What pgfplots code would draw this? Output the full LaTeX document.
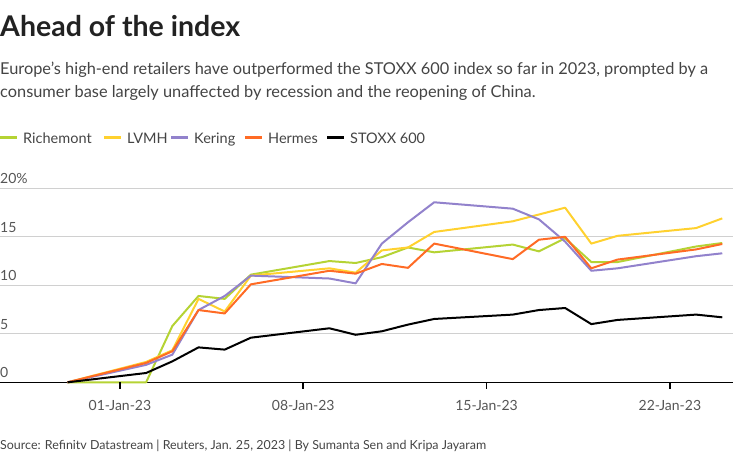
\documentclass[border=0pt]{standalone}
\usepackage{pgfplots}
\pgfplotsset{compat=1.18}
\usepackage{fontspec}
\setmainfont{Lato}
\definecolor{cRich}{HTML}{B5D334}
\definecolor{cLVMH}{HTML}{FFD12F}
\definecolor{cKer}{HTML}{9282CC}
\definecolor{cHer}{HTML}{FF6B25}
\definecolor{cTxt}{HTML}{222222}
\definecolor{cSub}{HTML}{444444}
\definecolor{cLab}{HTML}{555555}
\definecolor{cGrid}{HTML}{D0D0D0}
\newcommand{\legitem}[3]{%
  \draw[draw=#2, line width=2.2pt] (#1,319.5) -- (#1+17,319.5);
  \node[anchor=base west,inner sep=0,text=cSub] at (#1+23,313.5) {\fontsize{14.5}{16}\selectfont #3};
}
\begin{document}
\begin{tikzpicture}[x=1pt,y=1pt]
\useasboundingbox (0,0) rectangle (736,457);
\node[anchor=base west,inner sep=0,text=cTxt] at (0,457-37) {\fontsize{28.5}{32}\selectfont\bfseries Ahead of the index};
\node[anchor=base west,inner sep=0,text=cSub] at (0,457-75) {\fontsize{16.35}{20}\selectfont Europe’s high-end retailers have outperformed the STOXX 600 index so far in 2023, prompted by a};
\node[anchor=base west,inner sep=0,text=cSub] at (0,457-98) {\fontsize{16.35}{20}\selectfont consumer base largely unaffected by recession and the reopening of China.};
\node[anchor=base west,inner sep=0,text=cSub] at (0,457-450) {\fontsize{12.45}{15}\selectfont Source: Refinitv Datastream | Reuters, Jan. 25, 2023 | By Sumanta Sen and Kripa Jayaram};
% legend
\legitem{0}{cRich}{Richemont}
\legitem{104}{cLVMH}{LVMH}
\legitem{171}{cKer}{Kering}
\legitem{245}{cHer}{Hermes}
\legitem{327}{black}{STOXX 600}
\begin{axis}[
  scale only axis,
  width=733pt, height=194pt,
  at={(0,77)}, anchor=south west,
  xmin=-3.58, xmax=24.41, ymin=0, ymax=20,
  axis lines*=left,
  x axis line style={black, line width=1.2pt, -},
  y axis line style={draw=none},
  xtick={1,8,15,22},
  xticklabels={01-Jan-23,08-Jan-23,15-Jan-23,22-Jan-23},
  tick align=inside,
  major tick length=0pt,
  xtick style={draw=none},
  xticklabel style={text=cLab, font=\fontsize{14}{16}\selectfont, anchor=base, yshift=-28pt},
  ytick={0,5,10,15,20},
  yticklabels={0,5,10,15,20\%},
  ymajorgrids,
  grid style={cGrid, line width=1pt},
  ytick style={draw=none},
  yticklabel style={text=cLab, font=\fontsize{14}{16}\selectfont, anchor=base west, inner sep=0pt, xshift=0pt, yshift=4.7pt},
  clip=false,
  every axis plot/.append style={line width=2pt, line join=round},
]
\addplot[cRich] coordinates {(-1,0)(2,0)(3,5.8)(4,8.9)(5,8.6)(6,11.1)(9,12.5)(10,12.3)(11,12.9)(12,13.9)(13,13.4)(16,14.2)(17,13.5)(18,14.85)(19,12.4)(20,12.4)(23,14.0)(24,14.36)};
\addplot[cLVMH] coordinates {(-1,0)(2,2.1)(3,3.3)(4,8.6)(5,7.3)(6,11.0)(9,11.75)(10,11.3)(11,13.6)(12,13.9)(13,15.5)(16,16.6)(17,17.3)(18,18.0)(19,14.3)(20,15.1)(23,15.9)(24,16.9)};
\addplot[cKer] coordinates {(-1,0)(2,1.8)(3,2.85)(4,7.45)(5,8.9)(6,11.0)(9,10.7)(10,10.2)(11,14.3)(12,16.5)(13,18.56)(16,17.9)(17,16.8)(18,14.5)(19,11.5)(20,11.75)(23,13.0)(24,13.3)};
\addplot[cHer] coordinates {(-1,0)(2,2.0)(3,3.2)(4,7.45)(5,7.1)(6,10.1)(9,11.5)(10,11.2)(11,12.2)(12,11.8)(13,14.3)(16,12.7)(17,14.7)(18,15.0)(19,11.75)(20,12.65)(23,13.7)(24,14.26)};
\addplot[black] coordinates {(-1,0)(2,0.96)(3,2.16)(4,3.6)(5,3.37)(6,4.6)(9,5.57)(10,4.9)(11,5.26)(12,5.95)(13,6.53)(16,6.98)(17,7.45)(18,7.66)(19,6.0)(20,6.43)(23,6.98)(24,6.7)};
\pgfplotsinvokeforeach{1,8,15,22}{\draw[black, line width=1.6pt] (axis cs:#1,0) -- ++(0pt,-7pt);}
\end{axis}
\end{tikzpicture}
\end{document}
